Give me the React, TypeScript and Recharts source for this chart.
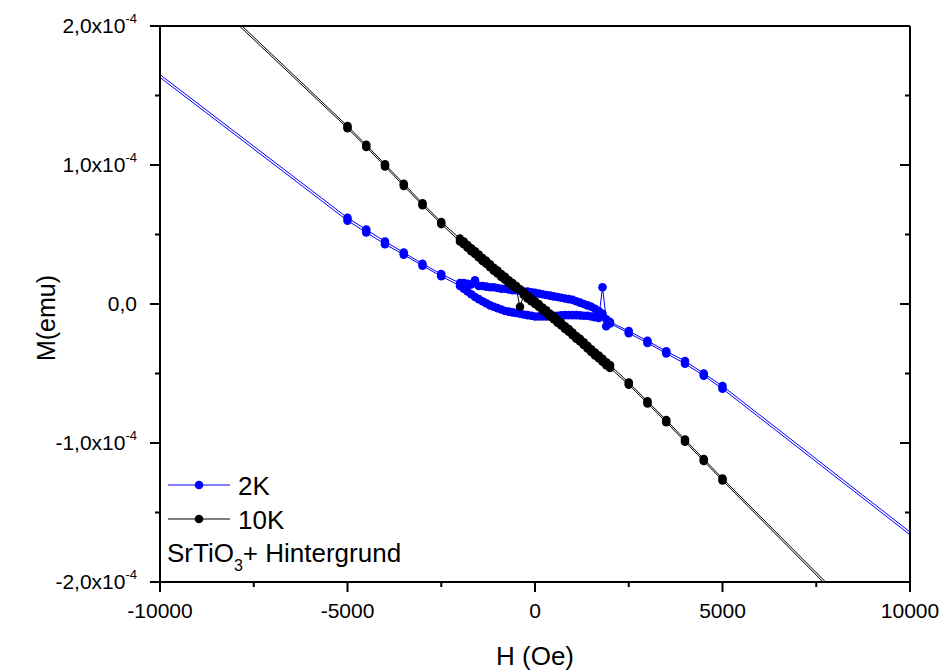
import { LineChart, Line, XAxis, YAxis, Legend, Label } from 'recharts'

document.body.style.margin = '0'

const FONT = '"Liberation Sans", Arial, Helvetica, sans-serif'

// applied field steps (Oe), same grid for both temperatures
const H_OE = [
  -10000, -5000, -4500, -4000, -3500, -3000, -2500,
  -2000, -1900, -1800, -1700, -1600, -1500, -1400, -1300, -1200, -1100,
  -1000, -900, -800, -700, -600, -500, -400, -300, -200, -100,
  0, 100, 200, 300, 400, 500, 600, 700, 800, 900,
  1000, 1100, 1200, 1300, 1400, 1500, 1600, 1700, 1800, 1900, 2000,
  2500, 3000, 3500, 4000, 4500, 5000, 10000,
]

// moment in 1e-4 emu at the fields above; DOWN = field decreasing, UP = field increasing
const M_2K_DOWN = [
  1.65, 0.62, 0.535, 0.45, 0.37, 0.29, 0.215,
  0.15, 0.15, 0.145, 0.14, 0.17, 0.13, 0.13, 0.125, 0.12, 0.12,
  0.115, 0.11, 0.11, 0.105, 0.1, 0.1, 0.095, 0.09, 0.09, 0.085,
  0.08, 0.075, 0.07, 0.065, 0.06, 0.055, 0.05, 0.045, 0.04, 0.035,
  0.03, 0.02, 0.01, 0.0, -0.01, -0.02, -0.035, -0.05, -0.07, -0.16, -0.13,
  -0.195, -0.265, -0.34, -0.41, -0.5, -0.59, -1.64,
]
const M_2K_UP = [
  1.63, 0.6, 0.515, 0.43, 0.355, 0.275, 0.2,
  0.13, 0.11, 0.09, 0.07, 0.05, 0.035, 0.02, 0.005, -0.01, -0.02,
  -0.03, -0.04, -0.05, -0.055, -0.06, -0.065, -0.07, -0.075, -0.08, -0.085,
  -0.09, -0.09, -0.09, -0.09, -0.088, -0.085, -0.085, -0.082, -0.08, -0.08,
  -0.08, -0.08, -0.082, -0.085, -0.085, -0.09, -0.095, -0.1, 0.12, -0.11, -0.14,
  -0.21, -0.28, -0.355, -0.43, -0.515, -0.61, -1.66,
]
const M_10K_DOWN = [
  2.56, 1.28, 1.145, 1.005, 0.865, 0.725, 0.59,
  0.47, 0.45, 0.425, 0.4, 0.38, 0.355, 0.33, 0.31, 0.285, 0.26,
  0.24, 0.215, 0.195, 0.17, 0.15, 0.13, 0.105, 0.085, 0.06, 0.04,
  0.02, 0.0, -0.025, -0.045, -0.07, -0.09, -0.115, -0.135, -0.16, -0.18,
  -0.205, -0.23, -0.25, -0.275, -0.3, -0.325, -0.35, -0.37, -0.395, -0.42, -0.44,
  -0.565, -0.7, -0.835, -0.975, -1.115, -1.255, -2.61,
]
const M_10K_UP = [
  2.54, 1.265, 1.13, 0.99, 0.85, 0.71, 0.575,
  0.45, 0.43, 0.405, 0.38, 0.36, 0.335, 0.31, 0.29, 0.265, 0.24,
  0.22, 0.195, 0.175, 0.15, 0.13, 0.11, -0.02, 0.065, 0.04, 0.02,
  0.0, -0.02, -0.045, -0.065, -0.09, -0.11, -0.135, -0.155, -0.18, -0.2,
  -0.225, -0.25, -0.27, -0.295, -0.32, -0.345, -0.37, -0.39, -0.415, -0.44, -0.46,
  -0.58, -0.715, -0.85, -0.99, -1.13, -1.27, -2.63,
]

const SERIES = ['2K', '10K']
const X_TICKS = [-10000, -7500, -5000, -2500, 0, 2500, 5000, 7500, 10000]
const Y_TICKS = [-2, -1.5, -1, -0.5, 0, 0.5, 1, 1.5, 2]

const BLUE = '#0000ff'
const BLACK = '#000000'
const DOT_R = 4.3

// full sweep: +H -> -H -> +H
function loop(down: number[], up: number[]) {
  const d = H_OE.map((h, i) => ({ h, m: down[i] })).reverse()
  const u = H_OE.map((h, i) => ({ h, m: up[i] }))
  return [...d, ...u]
}

const data2K = loop(M_2K_DOWN, M_2K_UP)
const data10K = loop(M_10K_DOWN, M_10K_UP)

const dotFor = (color: string) => (p: any) => {
  const { cx, cy, payload, index } = p
  if (Math.abs(payload.h) >= 10000) return <g key={`n-${index}`} />
  return <circle key={`d-${index}`} cx={cx} cy={cy} r={DOT_R} fill={color} />
}

function BottomTick({ x, y, payload }: any) {
  const v = payload.value
  const major = v % 5000 === 0
  return (
    <g>
      <line x1={x} x2={x} y1={y} y2={y + (major ? 10 : 5)} stroke="#000" strokeWidth={2} />
      {major && (
        <text x={x} y={y + 36} textAnchor="middle" fontSize={21} fill="#000">
          {v}
        </text>
      )}
    </g>
  )
}

function LeftTick({ x, y, payload }: any) {
  const v = payload.value
  const major = Number.isInteger(v)
  const txt = v.toFixed(1).replace('.', ',')
  return (
    <g>
      <line x1={x} x2={x - (major ? 10 : 5)} y1={y} y2={y} stroke="#000" strokeWidth={2} />
      {major && (
        <text x={x - 23} y={y + 7} textAnchor="end" fontSize={21} fill="#000">
          {v === 0 ? txt : `${txt}x10`}
          {v !== 0 && (
            <tspan dy={-10} fontSize={13}>
              -4
            </tspan>
          )}
        </text>
      )}
    </g>
  )
}

function RightTick({ x, y, payload }: any) {
  const major = Number.isInteger(payload.value)
  return <line x1={x} x2={x - (major ? 10 : 5)} y1={y} y2={y} stroke="#000" strokeWidth={2} />
}

function LegendBox({ payload }: any) {
  const items = SERIES.map((n) => (payload || []).find((p: any) => p.value === n)).filter(Boolean)
  return (
    <svg width={320} height={110} style={{ display: 'block', fontFamily: FONT, overflow: 'visible' }}>
      {items.map((it: any, i: number) => {
        const y = 20 + i * 34
        return (
          <g key={it.value}>
            <line x1={8} x2={70} y1={y} y2={y} stroke={it.color} strokeWidth={1} />
            <circle cx={39} cy={y} r={DOT_R} fill={it.color} />
            <text x={78} y={y + 10} fontSize={26} fill="#000">
              {it.value}
            </text>
          </g>
        )
      })}
      <text x={7} y={97} fontSize={26} fill="#000">
        SrTiO
        <tspan fontSize={16} dy={9}>
          3
        </tspan>
        <tspan dy={-9}>+ Hintergrund</tspan>
      </text>
    </svg>
  )
}

export default function App() {
  return (
    <LineChart
      width={944}
      height={671}
      margin={{ top: 25, right: 4, bottom: 49, left: 100 }}
      style={{ fontFamily: FONT, background: '#fff' }}
    >
      <XAxis
        type="number"
        dataKey="h"
        domain={[-10000, 10000]}
        ticks={X_TICKS}
        interval={0}
        allowDataOverflow
        height={40}
        tickLine={false}
        tickSize={0}
        tickMargin={0}
        tick={BottomTick}
        axisLine={{ stroke: '#000', strokeWidth: 2 }}
      >
        <Label
          content={({ viewBox }: any) => (
            <text x={viewBox.x + viewBox.width / 2} y={viewBox.y + 83} textAnchor="middle" fontSize={26} fill="#000">
              H (Oe)
            </text>
          )}
        />
      </XAxis>
      <XAxis
        xAxisId="top"
        orientation="top"
        type="number"
        dataKey="h"
        domain={[-10000, 10000]}
        allowDataOverflow
        height={1}
        tick={false}
        tickLine={false}
        axisLine={{ stroke: '#000', strokeWidth: 2 }}
      />
      <YAxis
        type="number"
        domain={[-2, 2]}
        ticks={Y_TICKS}
        interval={0}
        allowDataOverflow
        width={60}
        tickLine={false}
        tickSize={0}
        tickMargin={0}
        tick={LeftTick}
        axisLine={{ stroke: '#000', strokeWidth: 2 }}
      >
        <Label
          content={({ viewBox }: any) => {
            const lx = viewBox.x + viewBox.width - 105
            const ly = viewBox.y + viewBox.height / 2 + 14
            return (
              <text x={lx} y={ly} transform={`rotate(-90, ${lx}, ${ly})`} textAnchor="middle" fontSize={25} fill="#000">
                M(emu)
              </text>
            )
          }}
        />
      </YAxis>
      <YAxis
        yAxisId="right"
        orientation="right"
        type="number"
        domain={[-2, 2]}
        ticks={Y_TICKS}
        interval={0}
        allowDataOverflow
        width={30}
        tickLine={false}
        tickSize={0}
        tickMargin={0}
        tick={RightTick}
        axisLine={{ stroke: '#000', strokeWidth: 2 }}
      />
      {/* 2K sits on the mirrored axes (same domains) so they get drawn */}
      <Line
        name="2K"
        data={data2K}
        dataKey="m"
        xAxisId="top"
        yAxisId="right"
        type="linear"
        stroke={BLUE}
        strokeWidth={1}
        dot={dotFor(BLUE)}
        activeDot={false}
        isAnimationActive={false}
      />
      <Line
        name="10K"
        data={data10K}
        dataKey="m"
        type="linear"
        stroke={BLACK}
        strokeWidth={1}
        dot={dotFor(BLACK)}
        activeDot={false}
        isAnimationActive={false}
      />
      <Legend
        layout="horizontal"
        verticalAlign="middle"
        align="center"
        content={LegendBox}
        wrapperStyle={{ left: 160, top: 465, width: 320, height: 110 }}
      />
    </LineChart>
  )
}
